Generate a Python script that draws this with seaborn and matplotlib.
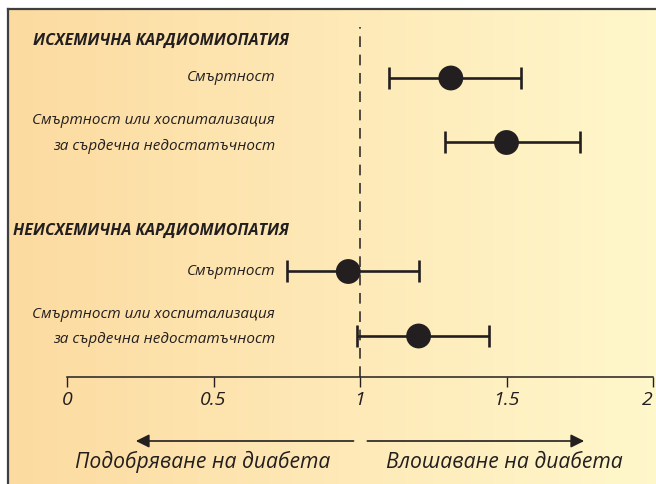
import numpy as np
import pandas as pd
import matplotlib
matplotlib.use("Agg")
import matplotlib.pyplot as plt
import seaborn as sns
from matplotlib.colors import LinearSegmentedColormap

# Hazard ratios with 95% confidence intervals
groups = ["ИСХЕМИЧНА КАРДИОМИОПАТИЯ", "НЕИСХЕМИЧНА КАРДИОМИОПАТИЯ"]
outcomes = ["Смъртност", "Смъртност или хоспитализация\nза сърдечна недостатъчност"]
row_group = [0, 0, 1, 1]
row_outcome = [0, 1, 0, 1]
hr = [1.31, 1.50, 0.96, 1.20]
ci_low = [1.10, 1.29, 0.75, 0.99]
ci_high = [1.55, 1.75, 1.20, 1.44]
x_ticks = [0, 0.5, 1, 1.5, 2]
x_tick_labels = ["0", "0.5", "1", "1.5", "2"]
direction_labels = ["Подобряване на диабета", "Влошаване на диабета"]

# vertical slot of each row: two rows per group, one empty slot for each header
slots = [g * 3 + o + 1 for g, o in zip(row_group, row_outcome)]
df = pd.DataFrame({"hr": hr, "lo": ci_low, "hi": ci_high, "slot": slots})

sns.set_theme(style="white")
plt.rcParams["font.family"] = ["Open Sans", "DejaVu Sans"]
ink = "#231f20"

W, H = 656, 484
fig = plt.figure(figsize=(W / 100, H / 100), dpi=100)

# warm gradient panel with a dark frame on its left and top edges
bg = fig.add_axes([8 / W, 0, 1.02 - 8 / W, 1 - 9 / H])
cmap = LinearSegmentedColormap.from_list("warm", ["#fcdba0", "#fee9b7", "#fff8cc"])
bg.imshow(np.linspace(0, 1, 256)[None, :], cmap=cmap, aspect="auto",
          extent=[0, 1, 0, 1])
bg.set_xlim(0, 1)
bg.set_ylim(0, 1)
bg.set_xticks([])
bg.set_yticks([])
for side in ("right", "bottom"):
    bg.spines[side].set_visible(False)
for side in ("left", "top"):
    bg.spines[side].set_color("#3f3f3f")
    bg.spines[side].set_linewidth(1.6)

# forest plot axes
x0, x1 = 67, 653
top_px, axis_px = 27, 377
slot_px = 64.5


def px_slot(p):
    return 1 + (p - 78) / slot_px


def px_x(p):
    return (p - x0) / (x1 - x0) * 2


ax = fig.add_axes([x0 / W, 1 - axis_px / H, (x1 - x0) / W, (axis_px - top_px) / H])
ax.set_facecolor("none")
ax.set_xlim(0, 2)
ax.set_ylim(px_slot(axis_px), px_slot(top_px))

ax.axvline(1, color=ink, lw=1.1, ls=(0, (7, 5)), zorder=1)

ax.errorbar(df["hr"], df["slot"],
            xerr=[df["hr"] - df["lo"], df["hi"] - df["hr"]],
            fmt="none", ecolor=ink, elinewidth=1.9, capsize=8.2, capthick=1.9,
            zorder=2)
sns.scatterplot(data=df, x="hr", y="slot", s=320, color=ink, edgecolor="none",
                ax=ax, zorder=3, legend=False)

ax.set_xlabel("")
ax.set_ylabel("")
ax.set_yticks([])
for side in ("left", "right", "top"):
    ax.spines[side].set_visible(False)
ax.spines["bottom"].set_color(ink)
ax.spines["bottom"].set_linewidth(1.1)
ax.set_xticks(x_ticks, x_tick_labels)
ax.tick_params(axis="x", direction="out", length=7, width=1.0, color=ink,
               pad=3, labelsize=14, labelcolor=ink, bottom=True)
tick_texts = ax.get_xticklabels()
for t in tick_texts:
    t.set_fontstyle("italic")
tick_texts[-1].set_horizontalalignment("right")

# group headers and row labels
header_shift = [0.43, 0.37]
for g, name in enumerate(groups):
    ax.text(px_x(289), g * 3 + header_shift[g], name, ha="right", va="center",
            fontsize=11.5, fontweight="bold", fontstyle="italic", color=ink,
            clip_on=False)
for s, o in zip(slots, row_outcome):
    off = 0 if o == 0 else -0.14
    ax.text(px_x(275), s + off, outcomes[o], ha="right", va="center",
            fontsize=11, fontstyle="italic", color=ink, linespacing=1.95,
            clip_on=False)

# direction arrows below the axis
arrow_y = H - 441
for tip, tail in ((0.235, 0.978), (1.765, 1.025)):
    ax.annotate("", xy=(tip, arrow_y), xytext=(tail, arrow_y),
                xycoords=("data", "figure pixels"),
                textcoords=("data", "figure pixels"),
                arrowprops=dict(arrowstyle="-|>", color=ink, lw=1.2,
                                mutation_scale=20, shrinkA=0, shrinkB=0))
ax.annotate(direction_labels[0], xy=(0.9, H - 462),
            xycoords=("data", "figure pixels"), ha="right", va="center",
            fontsize=15.2, fontstyle="italic", color=ink)
ax.annotate(direction_labels[1], xy=(1.09, H - 462),
            xycoords=("data", "figure pixels"), ha="left", va="center",
            fontsize=15.2, fontstyle="italic", color=ink)

fig.savefig("out.png", dpi=100)
